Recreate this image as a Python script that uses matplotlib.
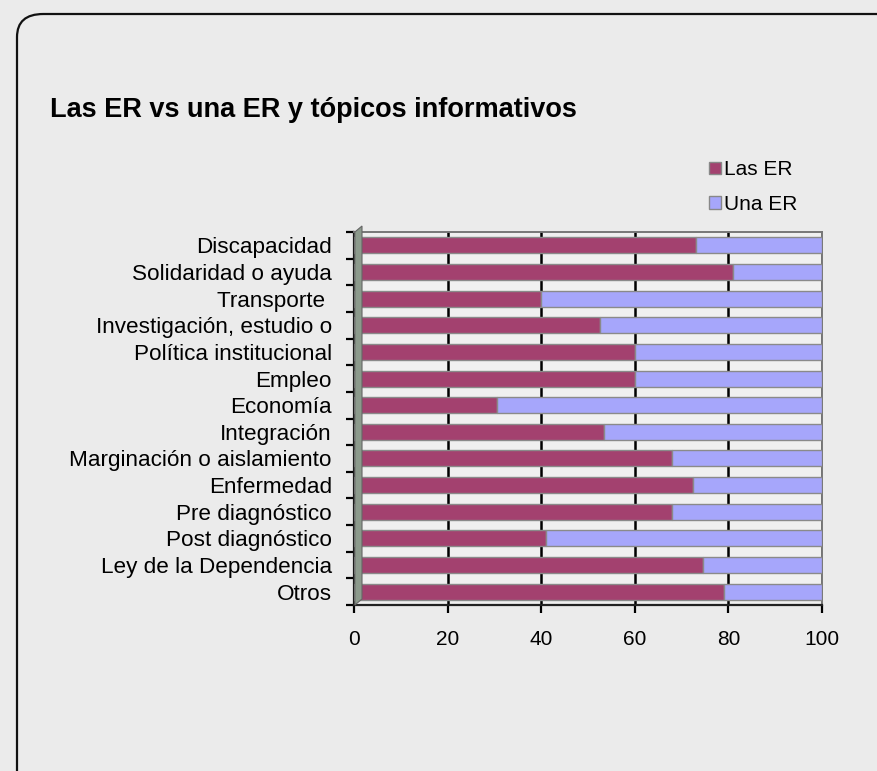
import matplotlib
matplotlib.use("Agg")
import matplotlib.pyplot as plt
from matplotlib.patches import FancyBboxPatch, Patch, Polygon
import numpy as np

categories = ["Discapacidad", "Solidaridad o ayuda", "Transporte ", "Investigación, estudio o",
              "Política institucional", "Empleo", "Economía", "Integración",
              "Marginación o aislamiento", "Enfermedad", "Pre diagnóstico", "Post diagnóstico",
              "Ley de la Dependencia", "Otros"]
las_er = [73, 81, 40, 52.5, 60, 60, 30.5, 53.5, 68, 72.5, 68, 41, 74.5, 79]
una_er = [100 - v for v in las_er]
xticks = [0, 20, 40, 60, 80, 100]

plt.rcParams['font.family'] = ['Liberation Sans', 'DejaVu Sans']

W, H = 877, 771
fig = plt.figure(figsize=(W / 100, H / 100), dpi=100)
fig.patch.set_facecolor('#ebebeb')

# rounded border
border = FancyBboxPatch((17 / W, -0.5), 1.2, 1.5 - 14 / H,
                        boxstyle="round,pad=0,rounding_size=0.03",
                        transform=fig.transFigure, fill=False, ec='#111111', lw=1.6)
fig.patches.append(border)

fig.text(50 / W, 1 - 110 / H, "Las ER vs una ER y tópicos informativos",
         fontsize=19.5, fontweight='bold', ha='left', va='center')

left, right, top, bottom = 354, 822, 232, 605
ax = fig.add_axes([left / W, 1 - bottom / H, (right - left) / W, (bottom - top) / H])
ax.set_facecolor('#f0f0f0')

y = np.arange(len(categories))
h = 0.6
ax.barh(y, las_er, height=h, color='#a3416f', edgecolor='#8a8a8a', lw=1.0, zorder=3)
ax.barh(y, una_er, left=las_er, height=h, color='#a6a6fb', edgecolor='#8a8a8a', lw=1.0, zorder=3)

ax.set_xlim(0, 100)
ax.set_ylim(len(categories) - 0.5, -0.5)
ax.set_xticks(xticks)
ax.set_xticklabels([str(t) for t in xticks], fontsize=15)
ax.xaxis.grid(True, color='black', lw=1.8, zorder=1)
ax.set_yticks(y)
ax.set_yticklabels(categories, fontsize=16.2)
ax.set_yticks(np.arange(len(categories) + 1) - 0.5, minor=True)
ax.tick_params(axis='y', which='major', length=0, pad=16)
ax.tick_params(axis='y', which='minor', length=6, width=1.6, direction='out')
ax.tick_params(axis='x', length=6, width=1.6, pad=12)
for s in ['top', 'right']:
    ax.spines[s].set_color('#777777')
    ax.spines[s].set_linewidth(1.4)
ax.spines['left'].set_color('#1a1a1a')
ax.spines['left'].set_linewidth(1.6)
ax.spines['bottom'].set_color('#222222')
ax.spines['bottom'].set_linewidth(1.6)

# thin grey side wall (3-D look)
wall = Polygon([(left / W + 0.001, 1 - bottom / H), (left / W + 0.001, 1 - top / H),
                ((left + 8) / W, 1 - (top - 6) / H), ((left + 8) / W, 1 - (bottom - 6) / H)],
               closed=True, transform=fig.transFigure, fc='#8c9a8c', ec='#666666', lw=0.8,
               zorder=5)
fig.patches.append(wall)

handles = [Patch(facecolor='#a3416f', edgecolor='#888888', label='Las ER'),
           Patch(facecolor='#a6a6fb', edgecolor='#888888', label='Una ER')]
fig.legend(handles=handles, loc='upper left', bbox_to_anchor=(701 / W, 1 - 152 / H),
           frameon=False, fontsize=15, handlelength=0.55, handleheight=0.55,
           handletextpad=0.15, labelspacing=0.75, borderaxespad=0)

fig.savefig("out.png", dpi=100, facecolor=fig.get_facecolor())
